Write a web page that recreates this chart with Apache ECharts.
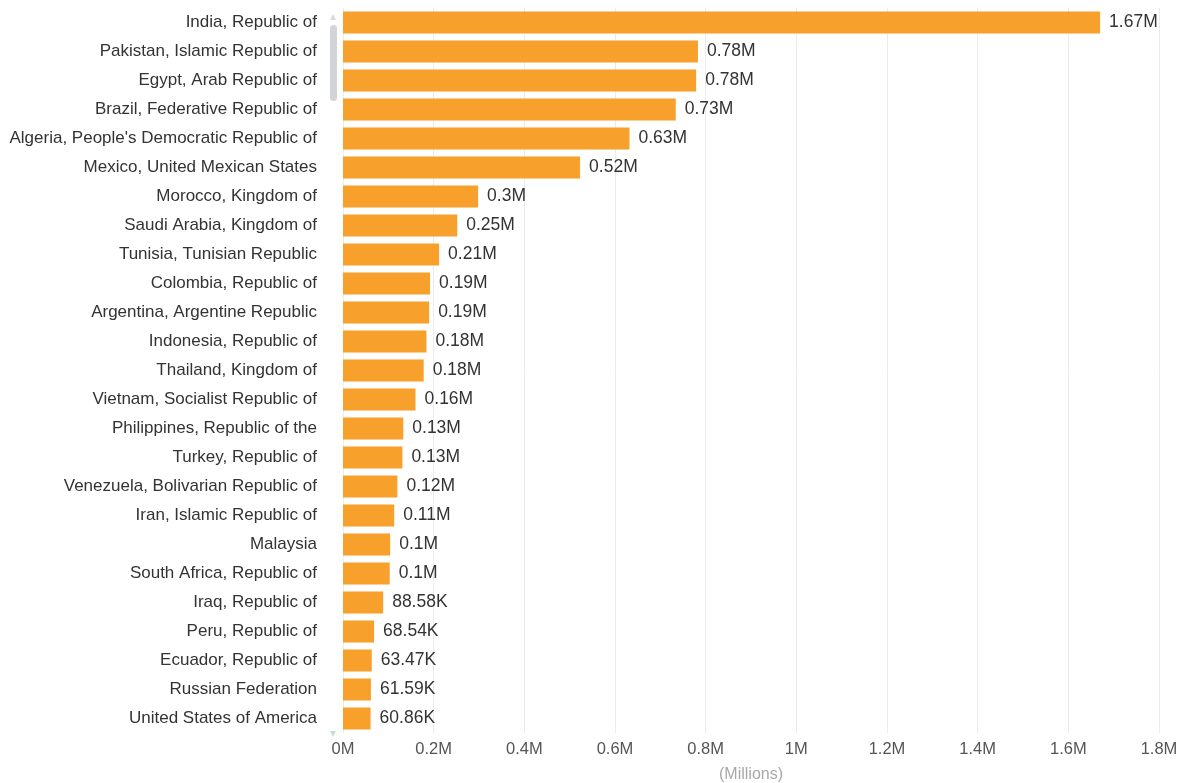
<!DOCTYPE html>
<html>
<head>
<meta charset="utf-8">
<script src="https://cdn.jsdelivr.net/npm/echarts@6/dist/echarts.min.js"></script>
<style>
html,body{margin:0;padding:0;background:#fff;overflow:hidden;}
#chart{width:1186px;height:783px;}
</style>
</head>
<body>
<div id="chart"></div>
<script>
var categories = [
  "India, Republic of",
  "Pakistan, Islamic Republic of",
  "Egypt, Arab Republic of",
  "Brazil, Federative Republic of",
  "Algeria, People's Democratic Republic of",
  "Mexico, United Mexican States",
  "Morocco, Kingdom of",
  "Saudi Arabia, Kingdom of",
  "Tunisia, Tunisian Republic",
  "Colombia, Republic of",
  "Argentina, Argentine Republic",
  "Indonesia, Republic of",
  "Thailand, Kingdom of",
  "Vietnam, Socialist Republic of",
  "Philippines, Republic of the",
  "Turkey, Republic of",
  "Venezuela, Bolivarian Republic of",
  "Iran, Islamic Republic of",
  "Malaysia",
  "South Africa, Republic of",
  "Iraq, Republic of",
  "Peru, Republic of",
  "Ecuador, Republic of",
  "Russian Federation",
  "United States of America"
];
var values = [
  1670000, 783000, 779000, 734000, 632000, 523000, 298000, 252000, 212000,
  192000, 190000, 184000, 178000, 160000, 133000, 131000, 120000, 113000,
  104000, 103000, 88580, 68540, 63470, 61590, 60860
];
var tickValues = [0, 200000, 400000, 600000, 800000, 1000000, 1200000, 1400000, 1600000, 1800000];

function fmtLabel(v) {
  if (v >= 100000) {
    return parseFloat((v / 1e6).toFixed(2)) + 'M';
  }
  return (v / 1000).toFixed(2) + 'K';
}
function fmtTick(v) {
  return parseFloat((v / 1e6).toFixed(1)) + 'M';
}

var FONT = 'Liberation Sans, Arial, sans-serif';
var chart = echarts.init(document.getElementById('chart'), null, {renderer: 'canvas'});
chart.setOption({
  backgroundColor: '#ffffff',
  animation: false,
  grid: {left: 343, right: 27, top: 8, bottom: 50, containLabel: false, outerBoundsMode: 'none'},
  xAxis: {
    type: 'value',
    min: tickValues[0],
    max: tickValues[tickValues.length - 1],
    interval: 200000,
    name: '(Millions)',
    nameLocation: 'middle',
    nameGap: 34,
    nameTextStyle: {color: '#a8a8a8', fontSize: 16, fontFamily: FONT},
    axisLine: {show: false},
    axisTick: {show: false},
    axisLabel: {
      formatter: fmtTick,
      color: '#555555',
      fontSize: 16.5,
      margin: 8,
      fontFamily: FONT
    },
    splitLine: {show: true, lineStyle: {color: '#ebebeb', width: 1}}
  },
  yAxis: {
    type: 'category',
    data: categories,
    inverse: true,
    axisLine: {show: false},
    axisTick: {show: false},
    axisLabel: {
      color: '#333333',
      fontSize: 17,
      margin: 26,
      fontFamily: FONT
    },
    splitLine: {show: false}
  },
  series: [{
    type: 'bar',
    data: values,
    barCategoryGap: '24%',
    itemStyle: {color: '#F7A02B'},
    label: {
      show: true,
      position: 'right',
      distance: 9,
      formatter: function (p) { return fmtLabel(p.value); },
      color: '#333333',
      fontSize: 17.5,
      fontFamily: FONT
    }
  }],
  graphic: [
    {type: 'polygon', shape: {points: [[330, 20], [336, 20], [333, 14]]}, style: {fill: '#d8d8e0'}},
    {type: 'rect', shape: {x: 330, y: 25, width: 7, height: 76, r: 3.5}, style: {fill: '#d3d3da'}},
    {type: 'polygon', shape: {points: [[330, 731], [336, 731], [333, 737]]}, style: {fill: '#c8dcd4'}}
  ]
});
</script>
</body>
</html>
